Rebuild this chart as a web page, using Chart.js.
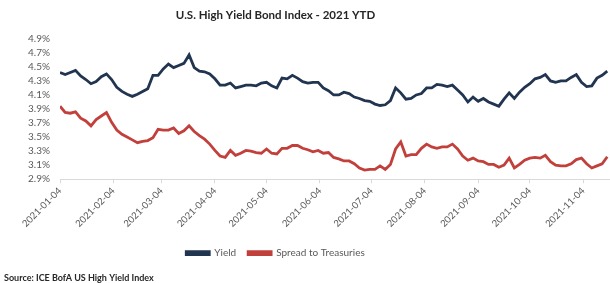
<!DOCTYPE html>
<html>
<head>
<meta charset="utf-8">
<script src="https://cdn.jsdelivr.net/npm/chart.js@4.4.0/dist/chart.umd.min.js"></script>
<style>
  html, body { margin: 0; padding: 0; background: #fff; }
  #wrap { width: 610px; height: 283px; position: relative; }
</style>
</head>
<body>
<div id="wrap"><canvas id="hyChart"></canvas></div>
<script>
// ICE BofA US High Yield Index, 2021 YTD (one value every 3 days)
const startDate = '2021-01-04';
const stepDays = 3;

const yieldValues = [
  4.42, 4.39, 4.42, 4.45, 4.37, 4.32, 4.26, 4.29, 4.36, 4.40,
  4.32, 4.21, 4.15, 4.11, 4.08, 4.11, 4.15, 4.19, 4.38, 4.38,
  4.47, 4.54, 4.49, 4.52, 4.55, 4.67, 4.49, 4.44, 4.43, 4.40,
  4.33, 4.24, 4.24, 4.27, 4.20, 4.22, 4.24, 4.24, 4.23, 4.27,
  4.28, 4.23, 4.20, 4.34, 4.33, 4.38, 4.34, 4.29, 4.27, 4.28,
  4.28, 4.20, 4.16, 4.10, 4.10, 4.14, 4.12, 4.07, 4.05, 4.02,
  4.01, 3.97, 3.95, 3.96, 4.02, 4.20, 4.13, 4.04, 4.05, 4.10,
  4.12, 4.20, 4.20, 4.25, 4.24, 4.22, 4.24, 4.17, 4.10, 4.00,
  4.07, 4.01, 4.05, 4.00, 3.97, 3.94, 4.04, 4.13, 4.05, 4.14,
  4.21, 4.26, 4.33, 4.35, 4.39, 4.30, 4.28, 4.30, 4.30, 4.35,
  4.39, 4.28, 4.22, 4.23, 4.34, 4.38, 4.44
];

const spreadValues = [
  3.94, 3.85, 3.84, 3.86, 3.77, 3.73, 3.66, 3.75, 3.80, 3.85,
  3.71, 3.60, 3.54, 3.50, 3.46, 3.42, 3.44, 3.45, 3.49, 3.61,
  3.60, 3.60, 3.63, 3.55, 3.59, 3.66, 3.58, 3.52, 3.47, 3.40,
  3.31, 3.23, 3.21, 3.31, 3.24, 3.27, 3.31, 3.30, 3.28, 3.27,
  3.33, 3.27, 3.26, 3.34, 3.34, 3.38, 3.38, 3.34, 3.32, 3.29,
  3.31, 3.27, 3.28, 3.21, 3.19, 3.16, 3.16, 3.12, 3.06, 3.03,
  3.04, 3.04, 3.09, 3.04, 3.11, 3.33, 3.43, 3.23, 3.25, 3.25,
  3.34, 3.40, 3.36, 3.34, 3.36, 3.36, 3.40, 3.33, 3.23, 3.17,
  3.20, 3.16, 3.15, 3.11, 3.11, 3.07, 3.10, 3.20, 3.06, 3.11,
  3.17, 3.20, 3.21, 3.20, 3.24, 3.15, 3.10, 3.09, 3.09, 3.12,
  3.18, 3.20, 3.12, 3.06, 3.09, 3.12, 3.22
];

const monthTicks = [
  '2021-01-04', '2021-02-04', '2021-03-04', '2021-04-04', '2021-05-04', '2021-06-04',
  '2021-07-04', '2021-08-04', '2021-09-04', '2021-10-04', '2021-11-04'
];
const yTicks = [2.9, 3.1, 3.3, 3.5, 3.7, 3.9, 4.1, 4.3, 4.5, 4.7, 4.9];

const titleText = 'U.S. High Yield Bond Index - 2021 YTD';
const sourceNote = 'Source: ICE BofA US High Yield Index';

// days since start, so the x axis keeps calendar spacing
const dayOf = d => Math.round((Date.parse(d) - Date.parse(startDate)) / 86400000);
const labelByDay = {};
monthTicks.forEach(d => { labelByDay[dayOf(d)] = d; });

const toPoints = vals => vals.map((v, i) => ({ x: i * stepDays, y: v }));

// the title and legend sit left of the page centre in the original
const shiftBoxes = {
  id: 'shiftBoxes',
  afterLayout(chart) {
    [chart.titleBlock, chart.legend].forEach(b => {
      if (b) { b.left -= 29; b.right -= 29; }
    });
    chart.boxes.forEach(b => {
      if (b.options && b.options.text === sourceNote) { b.left += 4; b.right += 4; }
    });
  }
};

const tickColor = '#595959';
const font = 'Lato';

new Chart(document.getElementById('hyChart'), {
  type: 'line',
  data: {
    datasets: [
      {
        label: 'Yield',
        data: toPoints(yieldValues),
        borderColor: '#213450',
        backgroundColor: '#213450',
        borderWidth: 2.8,
        pointRadius: 0,
        tension: 0
      },
      {
        label: 'Spread to Treasuries',
        data: toPoints(spreadValues),
        borderColor: '#c2403b',
        backgroundColor: '#c2403b',
        borderWidth: 2.8,
        pointRadius: 0,
        tension: 0
      }
    ]
  },
  options: {
    responsive: true,
    maintainAspectRatio: false,
    animation: false,
    layout: { padding: { top: 8, left: 0, right: 1, bottom: 0 } },
    scales: {
      x: {
        type: 'linear',
        min: 0,
        max: 319,
        afterBuildTicks: scale => {
          scale.ticks = monthTicks.map(d => ({ value: dayOf(d) }));
        },
        afterFit: scale => { scale.height = 57; },
        ticks: {
          autoSkip: false,
          minRotation: 45,
          maxRotation: 45,
          color: tickColor,
          font: { family: font, size: 9.5 },
          padding: 2,
          callback: v => labelByDay[v] || ''
        },
        grid: {
          drawOnChartArea: false,
          drawTicks: true,
          tickLength: 4,
          color: '#d9d9d9'
        },
        border: { display: true, color: '#d9d9d9' }
      },
      y: {
        min: 2.9,
        max: 4.9,
        afterBuildTicks: scale => {
          scale.ticks = yTicks.map(v => ({ value: v }));
        },
        afterFit: scale => { scale.width = 60; },
        ticks: {
          autoSkip: false,
          color: tickColor,
          font: { family: font, size: 10 },
          padding: 10,
          callback: v => v.toFixed(1) + '%'
        },
        grid: { display: false, drawTicks: false },
        border: { display: false }
      }
    },
    plugins: {
      title: {
        display: true,
        text: titleText,
        color: '#262626',
        font: { family: font, size: 11.5, weight: 'bold' },
        padding: { top: 0, bottom: 17 }
      },
      subtitle: {
        display: true,
        text: sourceNote,
        position: 'bottom',
        align: 'start',
        color: '#262626',
        font: { family: font, size: 9, weight: 'bold' },
        padding: { top: 4, bottom: 0 }
      },
      legend: {
        position: 'bottom',
        labels: {
          boxWidth: 23,
          boxHeight: 3,
          padding: 12,
          color: tickColor,
          font: { family: font, size: 10 }
        }
      },
      tooltip: { enabled: false }
    }
  },
  plugins: [shiftBoxes]
});
</script>
</body>
</html>
